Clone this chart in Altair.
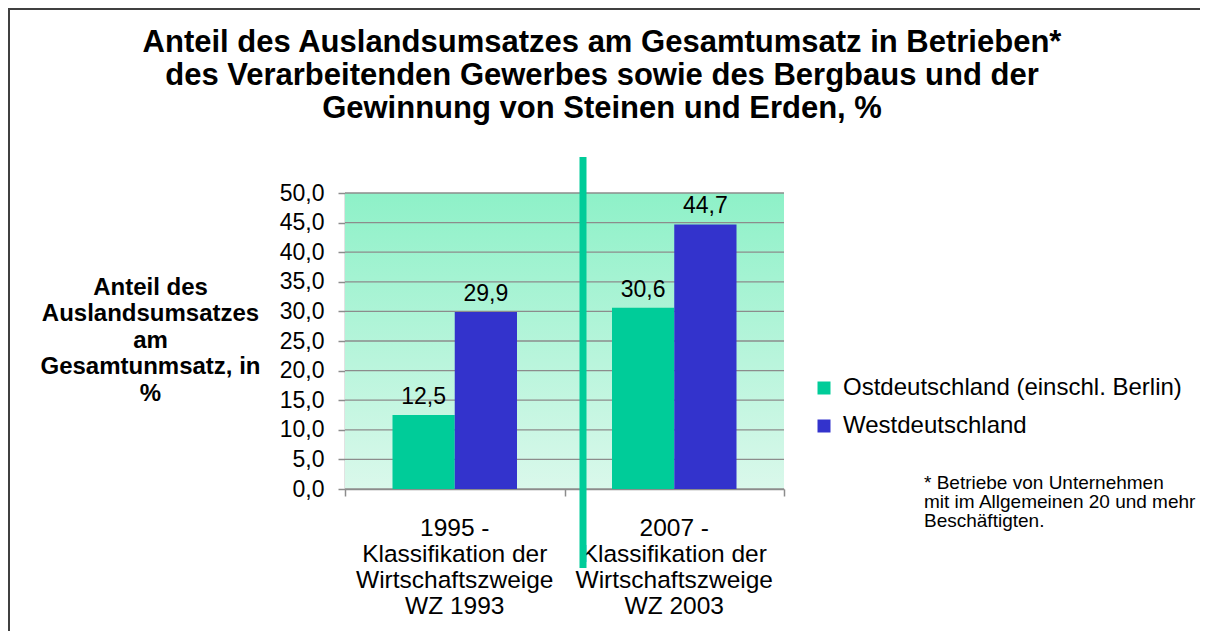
import altair as alt
import pandas as pd

# ---------------- data ----------------
categories = ["1995", "2007"]
category_labels = [
    "1995 -\nKlassifikation der\nWirtschaftszweige\nWZ 1993",
    "2007 -\nKlassifikation der\nWirtschaftszweige\nWZ 2003",
]
regions = ["Ostdeutschland (einschl. Berlin)", "Westdeutschland"]
ost_values = [12.5, 30.6]
west_values = [29.9, 44.7]
y_ticks = [0, 5, 10, 15, 20, 25, 30, 35, 40, 45, 50]
colors = ["#00CC99", "#3333CC"]

title_text = ("Anteil des Auslandsumsatzes am Gesamtumsatz in Betrieben*\n"
              "des Verarbeitenden Gewerbes sowie des Bergbaus und der\n"
              "Gewinnung von Steinen und Erden, %")
y_title_lines = ["Anteil des", "Auslandsumsatzes", "am", "Gesamtunmsatz, in", "%"]
footnote_text = ("* Betriebe von Unternehmen\n"
                 "mit im Allgemeinen 20 und mehr\n"
                 "Beschäftigten.")

# ---------------- layout ----------------
W, H = 439, 296
FONT = "Liberation Sans"
GRID = "#8c8c8c"

bars_df = pd.DataFrame({
    "Kategorie": categories * 2,
    "Region": [regions[0]] * len(categories) + [regions[1]] * len(categories),
    "Wert": ost_values + west_values,
})
cat_df = pd.DataFrame({"Kategorie": categories, "Label": category_labels})
grid_df = pd.DataFrame({"Wert": y_ticks})
one = pd.DataFrame({"t": [title_text]})
foot = pd.DataFrame({"t": [footnote_text]})

x_scale = alt.Scale(domain=categories, paddingInner=0, paddingOuter=0)
y_scale = alt.Scale(domain=[0, 50], nice=False, zero=True)
xoff = alt.XOffset("Region:N", scale=alt.Scale(domain=regions, paddingInner=0, paddingOuter=0.763))

x_axis = alt.Axis(labels=False, title=None, tickBand="extent", ticks=True,
                  tickSize=7, tickColor=GRID, tickWidth=1.5,
                  domainColor=GRID, domainWidth=1.5, grid=False)
y_axis = alt.Axis(values=y_ticks, grid=False,
                  labelExpr="replace(format(datum.value, '.1f'), '.', ',')",
                  labelFontSize=23, labelColor="black", labelPadding=14,
                  tickSize=7, tickColor=GRID, tickWidth=1.5,
                  domainColor=GRID, domainWidth=1.5,
                  title=y_title_lines, titleAngle=0, titleAlign="center",
                  titleBaseline="alphabetic", titleX=-195, titleY=101,
                  titleFontSize=24, titleFontWeight="bold",
                  titleLineHeight=26.5, titleColor="black")

# outer frame (top and left edge)
frame_top = alt.Chart(one).mark_rule(color="#404040", strokeWidth=2).encode(
    x=alt.value(-337), x2=alt.value(860), y=alt.value(-184))
frame_left = alt.Chart(one).mark_rule(color="#404040", strokeWidth=2).encode(
    x=alt.value(-336), y=alt.value(-185), y2=alt.value(440))

# plot background gradient
background = alt.Chart(one).mark_rect(
    color=alt.Gradient(
        gradient="linear",
        stops=[alt.GradientStop(color="#8EF1C8", offset=0),
               alt.GradientStop(color="#DAF8EB", offset=1)],
        x1=0, x2=0, y1=0, y2=1,
    )
).encode(x=alt.value(0), x2=alt.value(W), y=alt.value(0), y2=alt.value(H))

# horizontal gridlines (carry the y axis)
grid = alt.Chart(grid_df).mark_rule(color=GRID, strokeWidth=1.3).encode(
    y=alt.Y("Wert:Q", scale=y_scale, axis=y_axis),
    x=alt.value(0), x2=alt.value(W),
)

bars = alt.Chart(bars_df).mark_bar().encode(
    x=alt.X("Kategorie:N", scale=x_scale, sort=categories, axis=x_axis),
    xOffset=xoff,
    y=alt.Y("Wert:Q", scale=y_scale, axis=y_axis),
    color=alt.Color("Region:N", scale=alt.Scale(domain=regions, range=colors),
                    legend=alt.Legend(title=None, orient="none", legendX=467, legendY=183,
                                      symbolType="square", symbolSize=169,
                                      symbolStrokeWidth=0, labelFontSize=24,
                                      labelColor="black", labelOffset=7,
                                      rowPadding=14, labelLimit=600)),
)

bar_labels = alt.Chart(bars_df).transform_calculate(
    label="replace(format(datum.Wert, '.1f'), '.', ',')"
).mark_text(dy=-11, baseline="alphabetic", fontSize=23, color="black").encode(
    x=alt.X("Kategorie:N", scale=x_scale, sort=categories, axis=x_axis),
    xOffset=xoff,
    y=alt.Y("Wert:Q", scale=y_scale, axis=y_axis),
    text="label:N",
)

x_labels = alt.Chart(cat_df).mark_text(
    lineBreak="\n", lineHeight=26, fontSize=24.5, baseline="alphabetic",
    align="center", color="black"
).encode(
    x=alt.X("Kategorie:N", scale=x_scale, sort=categories, axis=x_axis),
    y=alt.value(343),
    text="Label:N",
)

title = alt.Chart(one).mark_text(
    lineBreak="\n", lineHeight=33, fontSize=31, fontWeight="bold",
    baseline="alphabetic", align="center", color="black"
).encode(x=alt.value(257), y=alt.value(-141), text="t:N")

footnote = alt.Chart(foot).mark_text(
    lineBreak="\n", lineHeight=19, fontSize=19, baseline="alphabetic",
    align="left", color="black"
).encode(x=alt.value(579), y=alt.value(296), text="t:N")

divider = alt.Chart(one).mark_rule(color="#00CC99", strokeWidth=7).encode(
    x=alt.value(238), y=alt.value(-36), y2=alt.value(375))

chart = alt.layer(
    frame_top, frame_left, background, grid, bars, bar_labels, x_labels,
    title, footnote, divider
).properties(
    width=W, height=H,
    padding={"left": 337, "top": 185, "right": 416, "bottom": 142},
    autosize=alt.AutoSizeParams(type="none"),
    background="white",
).configure(font=FONT).configure_view(stroke=None)

chart.save("out.html", embed_options={"renderer": "svg", "actions": False})
